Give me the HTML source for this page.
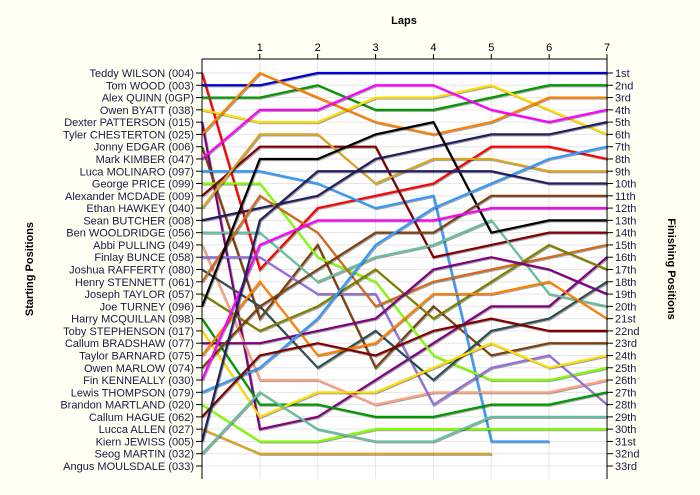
<!DOCTYPE html>
<html><head><meta charset="utf-8"><style>
body{margin:0;background:#fffff4;}
svg{display:block;font-family:"Liberation Sans",sans-serif;}
</style></head><body>
<svg id="chart" width="700" height="495" viewBox="0 0 700 495">
<rect width="700" height="495" fill="#fffff4"/>
<rect x="202" y="59" width="405" height="420" fill="#ffffff"/>
<g id="grid"></g>
<g id="lines"></g>
<g id="axes"></g>
<text x="404" y="24" text-anchor="middle" font-size="11" font-weight="bold">Laps</text>
<text transform="translate(33,269) rotate(-90)" text-anchor="middle" font-size="11" font-weight="bold">Starting Positions</text>
<text transform="translate(668,269) rotate(90)" text-anchor="middle" font-size="11" font-weight="bold">Finishing Positions</text>
</svg>
<script>
const drivers=["Teddy WILSON (004)","Tom WOOD (003)","Alex QUINN (0GP)","Owen BYATT (038)","Dexter PATTERSON (015)","Tyler CHESTERTON (025)","Jonny EDGAR (006)","Mark KIMBER (047)","Luca MOLINARO (097)","George PRICE (099)","Alexander MCDADE (009)","Ethan HAWKEY (040)","Sean BUTCHER (008)","Ben WOOLDRIDGE (056)","Abbi PULLING (049)","Finlay BUNCE (058)","Joshua RAFFERTY (080)","Henry STENNETT (061)","Joseph TAYLOR (057)","Joe TURNEY (096)","Harry MCQUILLAN (098)","Toby STEPHENSON (017)","Callum BRADSHAW (077)","Taylor BARNARD (075)","Owen MARLOW (074)","Fin KENNEALLY (030)","Lewis THOMPSON (079)","Brandon MARTLAND (020)","Callum HAGUE (062)","Lucca ALLEN (027)","Kiern JEWISS (005)","Seog MARTIN (032)","Angus MOULSDALE (033)"];
const finishLabels=["1st","2nd","3rd","4th","5th","6th","7th","8th","9th","10th","11th","12th","13th","14th","15th","16th","17th","18th","19th","20th","21st","22nd","23rd","24th","25th","26th","27th","28th","29th","30th","31st","32nd","33rd"];
const lapTicks=["1","2","3","4","5","6","7"];
const colors=["#ff0000","#0000cc","#009900","#ffdd00","#800080","#ff8000","#7f4010","#ff00ff","#3399ff","#80ff00","#800000","#daa520","#202060","#66c0a0","#ffa080","#9370db","#2f4f4f","#d2691e","#808000","#000000","#009900","#ffdd00","#800080","#ff8000","#7f4010","#ff00ff","#3399ff","#80ff00","#800000","#daa520","#202060","#66c0a0",null];
const p01=[1,17,12,11,10,7,7,8];
const p02=[2,2,1,1,1,1,1,1];
const p03=[3,3,2,4,4,3,2,2];
const p04=[4,5,5,3,3,2,4,6];
const p05=[5,30,29,26,23,20,20,16];
const p06=[6,1,3,5,6,5,3,3];
const p07=[7,21,15,25,20,24,23,23];
const p08=[8,4,4,2,2,4,5,4];
const p09=[9,9,10,12,11,31,31];
const p10=[10,10,16,18,24,26,26,25];
const p11=[11,7,7,7,16,15,14,14];
const p12=[12,6,6,10,8,8,9,9];
const p13=[13,12,11,8,7,6,6,5];
const p14=[14,14,18,16,15,13,19,20];
const p15=[15,26,26,28,27,27,27,26];
const p16=[16,16,19,19,28,25,24,28];
const p17=[17,20,25,22,26,22,21,18];
const p18=[18,11,14,20,18,17,16,15];
const p19=[19,22,20,17,21,18,15,17];
const p20=[20,8,8,6,5,14,13,13];
const p21=[21,28,28,29,29,28,28,27];
const p22=[22,29,27,27,25,23,25,24];
const p23=[23,23,22,21,17,16,17,19];
const p24=[24,18,24,23,19,19,18,21];
const p25=[25,20,17,14,14,11,11,11];
const p26=[26,15,13,13,13,12,12,12];
const p27=[27,25,21,15,12,10,8,7];
const p28=[28,31,31,30,30,30,30,30];
const p29=[29,24,23,24,22,21,22,22];
const p30=[30,32,32,32,32,32];
const p31=[31,13,9,9,9,9,10,10];
const p32=[32,27,30,31,31,29,29,29];
const p33=[];
const series=[p01,p02,p03,p04,p05,p06,p07,p08,p09,p10,p11,p12,p13,p14,p15,p16,p17,p18,p19,p20,p21,p22,p23,p24,p25,p26,p27,p28,p29,p30,p31,p32,p33];
const NS="http://www.w3.org/2000/svg";
const X0=202,X1=607,NL=7,Y0=73,Y1=466,NP=33;
function xs(l){return X0+(X1-X0)*l/NL;}
function ys(p){return Y0+(Y1-Y0)*(p-1)/(NP-1);}
function mk(tag,attrs,parent){const e=document.createElementNS(NS,tag);for(const k in attrs)e.setAttribute(k,attrs[k]);parent.appendChild(e);return e;}
const grid=document.getElementById('grid'),axes=document.getElementById('axes'),lines=document.getElementById('lines');
for(let p=1;p<=NP;p++){
 const g=mk('line',{x1:X0,x2:X1,y1:ys(p),y2:ys(p),stroke:'#e6e6e6','stroke-width':1},grid);
 
 
}
for(let l=1;l<NL;l++){
 const g=mk('line',{x1:xs(l),x2:xs(l),y1:59,y2:479,stroke:'#e6e6e6','stroke-width':1},grid);
 
 
}
series.forEach((s,i)=>{
 if(!s.length||!colors[i])return;
 const pts=s.map((p,l)=>xs(l)+','+ys(p)).join(' ');
 const sh=mk('polyline',{points:pts,fill:'none',stroke:'rgba(0,0,0,0.35)','stroke-width':2.2,transform:'translate(1,1)','stroke-linejoin':'miter'},lines);
 
 
 const pl=mk('polyline',{points:pts,fill:'none',stroke:colors[i],'stroke-width':2.2,'stroke-linejoin':'miter'},lines);
 
 
});
// axes
let a=mk('line',{x1:X0,x2:X0,y1:59,y2:479,stroke:'#000','stroke-width':1},axes);


a=mk('line',{x1:X1,x2:X1,y1:59,y2:479,stroke:'#000','stroke-width':1},axes);


a=mk('line',{x1:X0,x2:X1,y1:59,y2:59,stroke:'#000','stroke-width':1},axes);


lapTicks.forEach((t,i)=>{
 const x=xs(i+1);
 const tk=mk('line',{x1:x,x2:x,y1:54,y2:59,stroke:'#000'},axes);
 
 
 const tx=mk('text',{x:x,y:51,'text-anchor':'middle','font-size':11,fill:'#000'},axes);
 tx.textContent=t;
 
 
});
drivers.forEach((d,i)=>{
 const y=ys(i+1);
 const tk=mk('line',{x1:196,x2:X0,y1:y,y2:y,stroke:'#000'},axes);
 
 
 const tx=mk('text',{x:194,y:y+4,'text-anchor':'end','font-size':11,fill:'#1a1a40'},axes);
 tx.textContent=d;
 
 
});
finishLabels.forEach((f,i)=>{
 const y=ys(i+1);
 const tk=mk('line',{x1:X1,x2:X1+6,y1:y,y2:y,stroke:'#000'},axes);
 
 
 const tx=mk('text',{x:615,y:y+4,'font-size':11,fill:'#1a1a40'},axes);
 tx.textContent=f;
 
 
});
</script>
</body></html>
